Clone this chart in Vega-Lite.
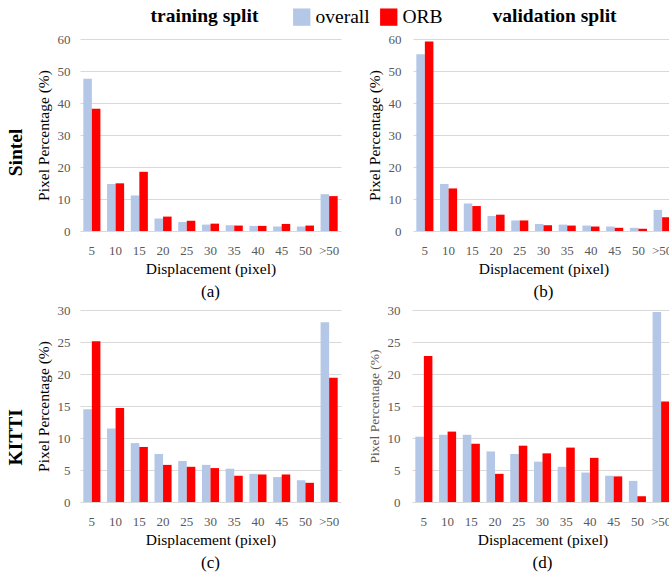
{
  "$schema": "https://vega.github.io/schema/vega-lite/v6.json",
  "background": "white",
  "padding": 5,
  "datasets": {
    "all": [
      {"p":"a","d":"5","m":"overall","v":47.6},{"p":"a","d":"5","m":"ORB","v":38.2},
      {"p":"a","d":"10","m":"overall","v":14.7},{"p":"a","d":"10","m":"ORB","v":14.9},
      {"p":"a","d":"15","m":"overall","v":11.1},{"p":"a","d":"15","m":"ORB","v":18.5},
      {"p":"a","d":"20","m":"overall","v":3.9},{"p":"a","d":"20","m":"ORB","v":4.5},
      {"p":"a","d":"25","m":"overall","v":2.8},{"p":"a","d":"25","m":"ORB","v":3.2},
      {"p":"a","d":"30","m":"overall","v":2.0},{"p":"a","d":"30","m":"ORB","v":2.3},
      {"p":"a","d":"35","m":"overall","v":1.8},{"p":"a","d":"35","m":"ORB","v":1.7},
      {"p":"a","d":"40","m":"overall","v":1.6},{"p":"a","d":"40","m":"ORB","v":1.6},
      {"p":"a","d":"45","m":"overall","v":1.4},{"p":"a","d":"45","m":"ORB","v":2.2},
      {"p":"a","d":"50","m":"overall","v":1.4},{"p":"a","d":"50","m":"ORB","v":1.7},
      {"p":"a","d":">50","m":"overall","v":11.5},{"p":"a","d":">50","m":"ORB","v":10.9},
      {"p":"b","d":"5","m":"overall","v":55.2},{"p":"b","d":"5","m":"ORB","v":59.2},
      {"p":"b","d":"10","m":"overall","v":14.7},{"p":"b","d":"10","m":"ORB","v":13.3},
      {"p":"b","d":"15","m":"overall","v":8.6},{"p":"b","d":"15","m":"ORB","v":7.8},
      {"p":"b","d":"20","m":"overall","v":4.7},{"p":"b","d":"20","m":"ORB","v":5.1},
      {"p":"b","d":"25","m":"overall","v":3.3},{"p":"b","d":"25","m":"ORB","v":3.3},
      {"p":"b","d":"30","m":"overall","v":2.2},{"p":"b","d":"30","m":"ORB","v":1.8},
      {"p":"b","d":"35","m":"overall","v":2.0},{"p":"b","d":"35","m":"ORB","v":1.7},
      {"p":"b","d":"40","m":"overall","v":1.7},{"p":"b","d":"40","m":"ORB","v":1.4},
      {"p":"b","d":"45","m":"overall","v":1.4},{"p":"b","d":"45","m":"ORB","v":1.0},
      {"p":"b","d":"50","m":"overall","v":1.0},{"p":"b","d":"50","m":"ORB","v":0.7},
      {"p":"b","d":">50","m":"overall","v":6.6},{"p":"b","d":">50","m":"ORB","v":4.3},
      {"p":"c","d":"5","m":"overall","v":14.5},{"p":"c","d":"5","m":"ORB","v":25.1},
      {"p":"c","d":"10","m":"overall","v":11.5},{"p":"c","d":"10","m":"ORB","v":14.7},
      {"p":"c","d":"15","m":"overall","v":9.2},{"p":"c","d":"15","m":"ORB","v":8.6},
      {"p":"c","d":"20","m":"overall","v":7.5},{"p":"c","d":"20","m":"ORB","v":5.8},
      {"p":"c","d":"25","m":"overall","v":6.4},{"p":"c","d":"25","m":"ORB","v":5.5},
      {"p":"c","d":"30","m":"overall","v":5.8},{"p":"c","d":"30","m":"ORB","v":5.3},
      {"p":"c","d":"35","m":"overall","v":5.2},{"p":"c","d":"35","m":"ORB","v":4.1},
      {"p":"c","d":"40","m":"overall","v":4.4},{"p":"c","d":"40","m":"ORB","v":4.3},
      {"p":"c","d":"45","m":"overall","v":3.9},{"p":"c","d":"45","m":"ORB","v":4.3},
      {"p":"c","d":"50","m":"overall","v":3.4},{"p":"c","d":"50","m":"ORB","v":3.0},
      {"p":"c","d":">50","m":"overall","v":28.1},{"p":"c","d":">50","m":"ORB","v":19.4},
      {"p":"d","d":"5","m":"overall","v":10.2},{"p":"d","d":"5","m":"ORB","v":22.8},
      {"p":"d","d":"10","m":"overall","v":10.5},{"p":"d","d":"10","m":"ORB","v":11.0},
      {"p":"d","d":"15","m":"overall","v":10.5},{"p":"d","d":"15","m":"ORB","v":9.1},
      {"p":"d","d":"20","m":"overall","v":7.9},{"p":"d","d":"20","m":"ORB","v":4.4},
      {"p":"d","d":"25","m":"overall","v":7.5},{"p":"d","d":"25","m":"ORB","v":8.8},
      {"p":"d","d":"30","m":"overall","v":6.3},{"p":"d","d":"30","m":"ORB","v":7.6},
      {"p":"d","d":"35","m":"overall","v":5.5},{"p":"d","d":"35","m":"ORB","v":8.5},
      {"p":"d","d":"40","m":"overall","v":4.6},{"p":"d","d":"40","m":"ORB","v":6.9},
      {"p":"d","d":"45","m":"overall","v":4.1},{"p":"d","d":"45","m":"ORB","v":4.0},
      {"p":"d","d":"50","m":"overall","v":3.3},{"p":"d","d":"50","m":"ORB","v":0.9},
      {"p":"d","d":">50","m":"overall","v":29.7},{"p":"d","d":">50","m":"ORB","v":15.7}
    ]
  },
  "spacing": 4,
  "vconcat": [
    {
      "title": {"text": "Sintel", "orient": "left", "anchor": "middle", "fontSize": 19.5, "fontWeight": "bold", "font": "Liberation Serif", "color": "#000000", "offset": 10},
      "spacing": 26,
      "hconcat": [
        {
          "title": {"text": "training split", "orient": "top", "anchor": "middle", "fontSize": 19.5, "fontWeight": "bold", "font": "Liberation Serif", "color": "#000000", "dx": 16, "offset": 7},
          "vconcat": [
            {
              "data": {"name": "all"},
              "transform": [{"filter": "datum.p == 'a'"}],
              "width": 261, "height": 192,
              "title": {"text": "(a)", "orient": "bottom", "fontSize": 17, "fontWeight": "normal", "font": "Liberation Serif", "color": "#000000", "offset": 7},
              "mark": {"type": "bar"},
              "encoding": {
                "x": {"field": "d", "type": "nominal", "sort": ["5","10","15","20","25","30","35","40","45","50",">50"], "scale": {"paddingInner": 0.28, "paddingOuter": 0.14}, "title": "Displacement (pixel)"},
                "xOffset": {"field": "m", "sort": ["overall","ORB"]},
                "y": {"field": "v", "type": "quantitative", "scale": {"domain": [0, 60]}, "axis": {"values": [0,10,20,30,40,50,60]}, "title": "Pixel Percentage (%)"},
                "color": {"field": "m", "scale": {"domain": ["overall","ORB"], "range": ["#B4C7E7","#FF0000"]}, "legend": {"title": null}}
              }
            }
          ]
        },
        {
          "title": {"text": "validation split", "orient": "top", "anchor": "middle", "fontSize": 19.5, "fontWeight": "bold", "font": "Liberation Serif", "color": "#000000", "dx": 34, "offset": 7},
          "vconcat": [
            {
              "data": {"name": "all"},
              "transform": [{"filter": "datum.p == 'b'"}],
              "width": 261, "height": 192,
              "title": {"text": "(b)", "orient": "bottom", "fontSize": 17, "fontWeight": "normal", "font": "Liberation Serif", "color": "#000000", "offset": 7},
              "mark": {"type": "bar"},
              "encoding": {
                "x": {"field": "d", "type": "nominal", "sort": ["5","10","15","20","25","30","35","40","45","50",">50"], "scale": {"paddingInner": 0.28, "paddingOuter": 0.14}, "title": "Displacement (pixel)"},
                "xOffset": {"field": "m", "sort": ["overall","ORB"]},
                "y": {"field": "v", "type": "quantitative", "scale": {"domain": [0, 60]}, "axis": {"values": [0,10,20,30,40,50,60], "labelPadding": 12}, "title": "Pixel Percentage (%)"},
                "color": {"field": "m", "scale": {"domain": ["overall","ORB"], "range": ["#B4C7E7","#FF0000"]}, "legend": {"title": null}}
              }
            }
          ]
        }
      ]
    },
    {
      "title": {"text": "KITTI", "orient": "left", "anchor": "middle", "fontSize": 19.5, "fontWeight": "bold", "font": "Liberation Serif", "color": "#000000", "offset": 10},
      "spacing": 26,
      "hconcat": [
        {
          "data": {"name": "all"},
          "transform": [{"filter": "datum.p == 'c'"}],
          "width": 261, "height": 192,
          "title": {"text": "(c)", "orient": "bottom", "fontSize": 17, "fontWeight": "normal", "font": "Liberation Serif", "color": "#000000", "offset": 7},
          "mark": {"type": "bar"},
          "encoding": {
            "x": {"field": "d", "type": "nominal", "sort": ["5","10","15","20","25","30","35","40","45","50",">50"], "scale": {"paddingInner": 0.28, "paddingOuter": 0.14}, "title": "Displacement (pixel)"},
            "xOffset": {"field": "m", "sort": ["overall","ORB"]},
            "y": {"field": "v", "type": "quantitative", "scale": {"domain": [0, 30]}, "axis": {"values": [0,5,10,15,20,25,30]}, "title": "Pixel Percentage (%)"},
            "color": {"field": "m", "scale": {"domain": ["overall","ORB"], "range": ["#B4C7E7","#FF0000"]}, "legend": {"title": null}}
          }
        },
        {
          "data": {"name": "all"},
          "transform": [{"filter": "datum.p == 'd'"}],
          "width": 261, "height": 192,
          "title": {"text": "(d)", "orient": "bottom", "fontSize": 17, "fontWeight": "normal", "font": "Liberation Serif", "color": "#000000", "offset": 7},
          "mark": {"type": "bar"},
          "encoding": {
            "x": {"field": "d", "type": "nominal", "sort": ["5","10","15","20","25","30","35","40","45","50",">50"], "scale": {"paddingInner": 0.28, "paddingOuter": 0.14}, "title": "Displacement (pixel)"},
            "xOffset": {"field": "m", "sort": ["overall","ORB"]},
            "y": {"field": "v", "type": "quantitative", "scale": {"domain": [0, 30]}, "axis": {"values": [0,5,10,15,20,25,30], "labelPadding": 12, "titleFontSize": 13.5, "titleColor": "#595959"}, "title": "Pixel Percentage (%)"},
            "color": {"field": "m", "scale": {"domain": ["overall","ORB"], "range": ["#B4C7E7","#FF0000"]}, "legend": {"title": null}}
          }
        }
      ]
    }
  ],
  "config": {
    "font": "Liberation Serif",
    "view": {"stroke": null},
    "axisX": {"labelFont": "Liberation Serif", "titleFont": "Liberation Serif", "labelAngle": 0, "ticks": false, "domain": false, "grid": false, "labelColor": "#595959", "labelFontSize": 13, "labelPadding": 13, "titleFontSize": 15.5, "titleFontWeight": "normal", "titleColor": "#000000", "titlePadding": 4},
    "axisY": {"labelFont": "Liberation Serif", "titleFont": "Liberation Serif", "ticks": false, "domain": false, "grid": true, "gridColor": "#D9D9D9", "gridWidth": 1, "labelColor": "#595959", "labelFontSize": 13, "labelPadding": 10, "titleFontSize": 15.5, "titleFontWeight": "normal", "titleColor": "#000000", "titlePadding": 6},
    "legend": {"orient": "none", "legendX": 212, "legendY": -32, "direction": "horizontal", "symbolType": "square", "symbolSize": 300, "symbolStrokeWidth": 0, "labelFontSize": 19.5, "labelFont": "Liberation Serif", "labelColor": "#000000", "labelOffset": 4, "columnPadding": 9, "padding": 0}
  }
}
